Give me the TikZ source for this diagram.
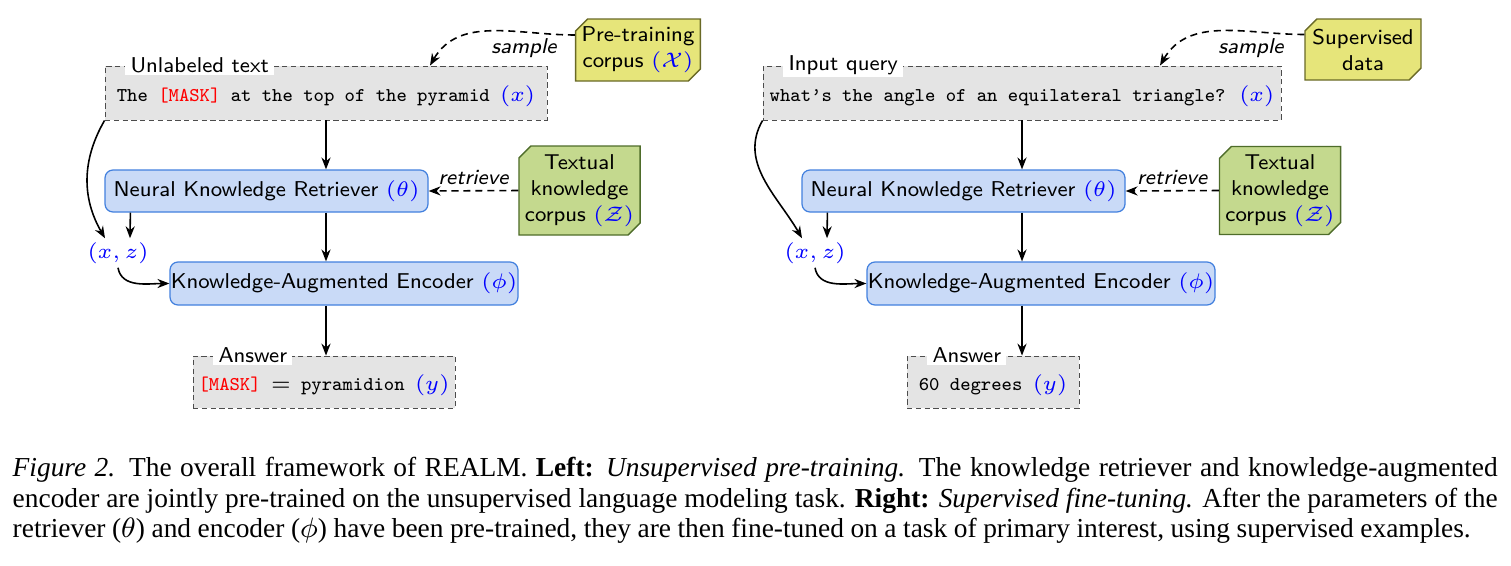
\documentclass[tikz,border=0pt]{standalone}
\usepackage{fontspec}
\newfontfamily\capfont{Liberation Serif}
\usetikzlibrary{shapes.misc,arrows.meta}
\definecolor{modfill}{RGB}{201,218,247}
\definecolor{modline}{RGB}{66,128,222}
\definecolor{datafill}{RGB}{230,229,122}
\definecolor{dataline}{RGB}{105,105,38}
\definecolor{kbfill}{RGB}{196,217,142}
\definecolor{kbline}{RGB}{78,108,42}
\definecolor{boxfill}{RGB}{228,228,228}
\newcommand\bluevar[1]{{\fontsize{6}{7}\selectfont\textcolor{blue}{$#1$}}}
\begin{document}
\begin{tikzpicture}[
    every node/.style={font=\fontsize{6.1}{7.4}\selectfont\sffamily, align=center},
    txtbox/.style={draw=black!70, dash pattern=on 1.5pt off 1pt, line width=0.25pt, fill=boxfill,
      text height=6.2pt, text depth=1.6pt, inner sep=0pt, font=\fontsize{5.55}{7}\selectfont\ttfamily},
    tagbox/.style={fill=white, inner xsep=1.5pt, inner ysep=0.5pt, anchor=west},
    modbox/.style={draw=modline, line width=0.35pt, fill=modfill, rounded corners=0.08cm, inner sep=0pt},
    srcbox/.style={chamfered rectangle, chamfered rectangle corners={north west,south east},
      chamfered rectangle xsep=1.7pt, chamfered rectangle ysep=1.7pt, line width=0.4pt, inner sep=0pt},
    flow/.style={-{Stealth[length=3.4pt,width=2.6pt]}, line width=0.45pt},
    fetch/.style={flow, dash pattern=on 2pt off 1.4pt},
    act/.style={font=\fontsize{6.1}{7.4}\selectfont\sffamily\itshape},
    pair/.style={text=blue, inner sep=1pt, font=\fontsize{6}{7}\selectfont},
    capline/.style={anchor=base west, inner sep=0pt, font=\capfont\fontsize{7.8}{8.7}\selectfont}
  ]
  \useasboundingbox (0, 0) rectangle (15.11, 5.65);

  % unsupervised pre-training
  \node[txtbox, minimum width=4.42cm, minimum height=0.54cm] (unl) at (3.26, 4.72)
    {The \textcolor{red}{[MASK]} at the top of the pyramid \bluevar{(x)}};
  \node[tagbox] (unltag) at ([xshift=0.2cm]unl.north west) {Unlabeled text};
  \node[srcbox, draw=dataline, fill=datafill, minimum width=1.23cm, minimum height=0.62cm] (ptc) at (6.38, 5.15)
    {Pre-training\\corpus \bluevar{(\mathcal{X})}};
  \node[modbox, minimum width=3.23cm, minimum height=0.42cm] (ret) at (2.665, 3.74)
    {Neural Knowledge Retriever \bluevar{(\theta)}};
  \node[srcbox, draw=kbline, fill=kbfill, minimum width=1.15cm, minimum height=0.89cm] (kc) at (5.795, 3.745)
    {Textual\\knowledge\\corpus \bluevar{(\mathcal{Z})}};
  \node[pair] (xz) at (1.18, 3.12) {$(x,z)$};
  \node[modbox, minimum width=3.48cm, minimum height=0.43cm] (enc) at (3.44, 2.815)
    {Knowledge-Augmented Encoder \bluevar{(\phi)}};
  \node[txtbox, minimum width=2.62cm, minimum height=0.52cm] (ans) at (3.24, 1.83)
    {\textcolor{red}{[MASK]} $=$ pyramidion \bluevar{(y)}};
  \node[tagbox] (anstag) at ([xshift=0.2cm]ans.north west) {Answer};
  \node[act] (smp) at (5.24, 5.17) {sample};

  \draw[fetch] ([yshift=0.15cm]ptc.west) to[out=180, in=60] ([xshift=1.04cm]unl.north);
  \draw[fetch] (kc.west) -- node[act, above, inner sep=1.5pt] (rtv) {retrieve} (ret.east);
  \draw[flow] (unl.south) -- (unl.south |- ret.north);
  \draw[flow] (unl.south |- ret.south) -- (unl.south |- enc.north);
  \draw[flow] (unl.south |- enc.south) -- (unl.south |- ans.north);
  \draw[flow] ([xshift=0.26cm]ret.south west) -- ([xshift=0.12cm]xz.north);
  \draw[flow] (unl.south west) to[out=240, in=120] ([xshift=-0.13cm]xz.north);
  \draw[flow] (xz.south) to[out=-80, in=180] (enc.west);

  % supervised fine-tuning
  \node[txtbox, minimum width=5.18cm, minimum height=0.54cm] (qry) at (10.22, 4.72)
    {what’s the angle of an equilateral triangle? \bluevar{(x)}};
  \node[tagbox] (qrytag) at ([xshift=0.2cm]qry.north west) {Input query};
  \node[srcbox, draw=dataline, fill=datafill, minimum width=1.16cm, minimum height=0.61cm] (sup) at (13.63, 5.155)
    {Supervised\\data};
  \node[modbox, minimum width=3.23cm, minimum height=0.42cm] (ret2) at (9.635, 3.74)
    {Neural Knowledge Retriever \bluevar{(\theta)}};
  \node[srcbox, draw=kbline, fill=kbfill, minimum width=1.18cm, minimum height=0.88cm] (kc2) at (12.80, 3.745)
    {Textual\\knowledge\\corpus \bluevar{(\mathcal{Z})}};
  \node[pair] (xz2) at (8.15, 3.12) {$(x,z)$};
  \node[modbox, minimum width=3.48cm, minimum height=0.43cm] (enc2) at (10.41, 2.815)
    {Knowledge-Augmented Encoder \bluevar{(\phi)}};
  \node[txtbox, minimum width=1.72cm, minimum height=0.52cm] (ans2) at (9.93, 1.83)
    {60 degrees \bluevar{(y)}};
  \node[tagbox] (anstag2) at ([xshift=0.2cm]ans2.north west) {Answer};
  \node[act] (smp2) at (12.51, 5.17) {sample};

  \draw[fetch] ([yshift=0.15cm]sup.west) to[out=180, in=60] ([xshift=1.38cm]qry.north);
  \draw[fetch] (kc2.west) -- node[act, above, inner sep=1.5pt] (rtv2) {retrieve} (ret2.east);
  \draw[flow] (qry.south) -- (qry.south |- ret2.north);
  \draw[flow] (qry.south |- ret2.south) -- (qry.south |- enc2.north);
  \draw[flow] (qry.south |- enc2.south) -- (qry.south |- ans2.north);
  \draw[flow] ([xshift=0.26cm]ret2.south west) -- ([xshift=0.12cm]xz2.north);
  \draw[flow] (qry.south west) to[out=240, in=120] ([xshift=-0.13cm]xz2.north);
  \draw[flow] (xz2.south) to[out=-80, in=180] (enc2.west);

  % caption
  \node[capline] (cap1) at (0.12, 0.89) {\makebox[14.85cm][s]{\textit{Figure 2.} The overall framework of REALM. \textbf{Left:} \textit{Unsupervised pre-training.} The knowledge retriever and knowledge-augmented}};
  \node[capline] (cap2) at (0.12, 0.58) {\makebox[14.85cm][s]{encoder are jointly pre-trained on the unsupervised language modeling task. \textbf{Right:} \textit{Supervised fine-tuning.} After the parameters of the}};
  \node[capline] (cap3) at (0.12, 0.28) {\makebox[14.58cm][s]{retriever ($\theta$) and encoder ($\phi$) have been pre-trained, they are then fine-tuned on a task of primary interest, using supervised examples.}};
\end{tikzpicture}
\end{document}
